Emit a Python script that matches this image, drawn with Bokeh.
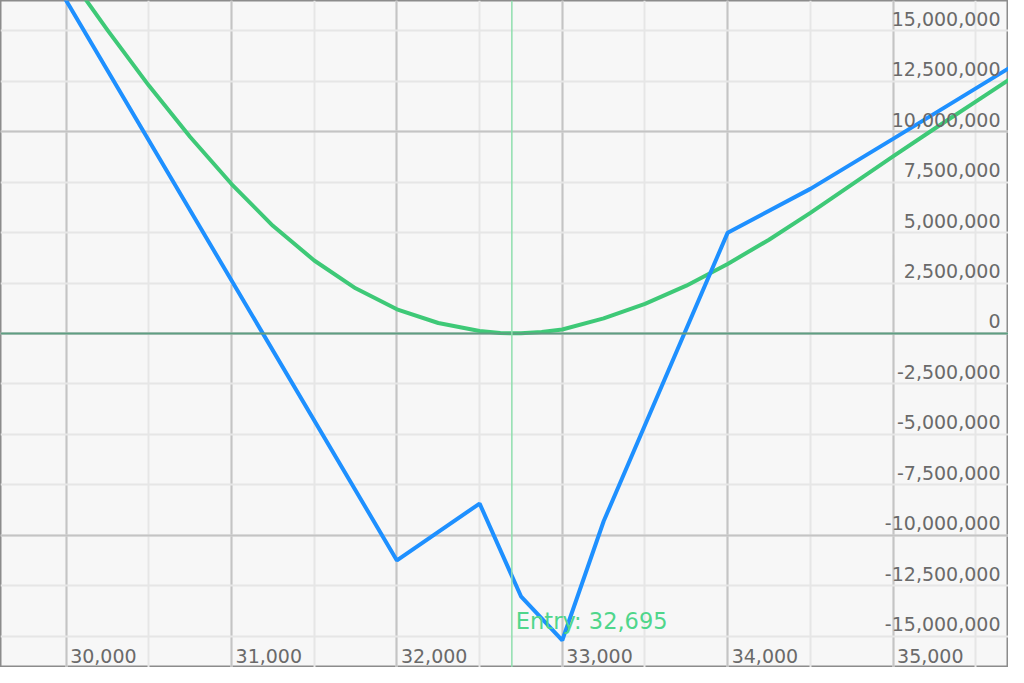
from bokeh.plotting import figure
from bokeh.models import ColumnDataSource, Span, FixedTicker, Grid
from bokeh.core.properties import value
from bokeh.embed import file_html
from bokeh.resources import INLINE

# ---------------- data ----------------
blue_price = [29500, 32000, 32500, 32750, 33000, 33250, 34000, 34500, 35000, 35750]
blue_pnl = [23.45e6, -11.25e6, -8.43e6, -13.03e6, -15.21e6, -9.31e6, 5.0e6, 7.17e6, 9.65e6, 13.4e6]

green_price = [29500, 29750, 30000, 30250, 30500, 30750, 31000, 31250, 31500, 31750,
               32000, 32250, 32500, 32625, 32750, 32875, 33000, 33250, 33500, 33750,
               34000, 34250, 34500, 34750, 35000, 35250, 35500, 35750]
green_pnl = [23.87e6, 20.87e6, 17.92e6, 15.04e6, 12.29e6, 9.74e6, 7.41e6, 5.34e6, 3.62e6, 2.24e6,
             1.2e6, 0.52e6, 0.12e6, 0.02e6, 0.01e6, 0.07e6, 0.2e6, 0.75e6, 1.47e6, 2.37e6,
             3.45e6, 4.65e6, 5.98e6, 7.38e6, 8.78e6, 10.15e6, 11.5e6, 12.84e6]

entry_price = 32695
entry_label = "Entry: 32,695"

x_ticks = [30000, 31000, 32000, 33000, 34000, 35000]
x_minor = [29500, 30000, 30500, 31000, 31500, 32000, 32500, 33000, 33500, 34000, 34500, 35000, 35500]
y_ticks = [-15e6, -12.5e6, -10e6, -7.5e6, -5e6, -2.5e6, 0, 2.5e6, 5e6, 7.5e6, 10e6, 12.5e6, 15e6]
y_major = [-10e6, 0, 10e6]

X_RANGE = (29603, 35698)
Y_RANGE = (-16.56e6, 16.51e6)

FONT = "DejaVu Sans"

p = figure(width=1008, height=667, x_range=X_RANGE, y_range=Y_RANGE,
           output_backend="svg", toolbar_location=None,
           x_axis_type=None, y_axis_type=None, min_border=0)
p.background_fill_color = "#f7f7f7"
p.border_fill_color = "#f7f7f7"
p.outline_line_color = "#8c8c8c"
p.outline_line_width = 2

# grids
xg = Grid(dimension=0, ticker=FixedTicker(ticks=x_ticks, minor_ticks=x_minor),
          grid_line_color="#c4c4c4", grid_line_width=2,
          minor_grid_line_color="#e6e6e6", minor_grid_line_width=2)
yg = Grid(dimension=1, ticker=FixedTicker(ticks=y_major, minor_ticks=y_ticks),
          grid_line_color="#c4c4c4", grid_line_width=2,
          minor_grid_line_color="#e6e6e6", minor_grid_line_width=2)
p.add_layout(xg)
p.add_layout(yg)

# zero line and entry line
p.add_layout(Span(location=0, dimension="width", line_color="#5f9e82", line_width=2))
p.add_layout(Span(location=entry_price, dimension="height", line_color="#8fdfae", line_width=1.5))

# series
p.line(green_price, green_pnl, line_color="#3ec977", line_width=4, line_join="round")
p.line(blue_price, blue_pnl, line_color="#1e90ff", line_width=4)

# y tick labels (inside, right)
ysrc = ColumnDataSource(dict(x=[X_RANGE[1]] * len(y_ticks), y=y_ticks,
                             t=["{:,}".format(int(v)) for v in y_ticks]))
p.text(x="x", y="y", text="t", source=ysrc, text_align="right", text_baseline="middle",
       x_offset=-8, y_offset=-12, text_font=value(FONT), text_font_size="19px",
       text_color="#6a6a6a")

# x tick labels (inside, bottom)
xsrc = ColumnDataSource(dict(x=x_ticks, y=[Y_RANGE[0]] * len(x_ticks),
                             t=["{:,}".format(v) for v in x_ticks]))
p.text(x="x", y="y", text="t", source=xsrc, text_align="left", text_baseline="middle",
       x_offset=4, y_offset=-12, text_font=value(FONT), text_font_size="19px",
       text_color="#6a6a6a")

# entry label
p.text(x=[entry_price], y=[Y_RANGE[0]], text=[entry_label], text_align="left",
       text_baseline="middle", x_offset=4, y_offset=-47,
       text_font=value(FONT), text_font_size="22.5px", text_color="#4fd68b")

open("out.html", "w").write(file_html(p, INLINE))
